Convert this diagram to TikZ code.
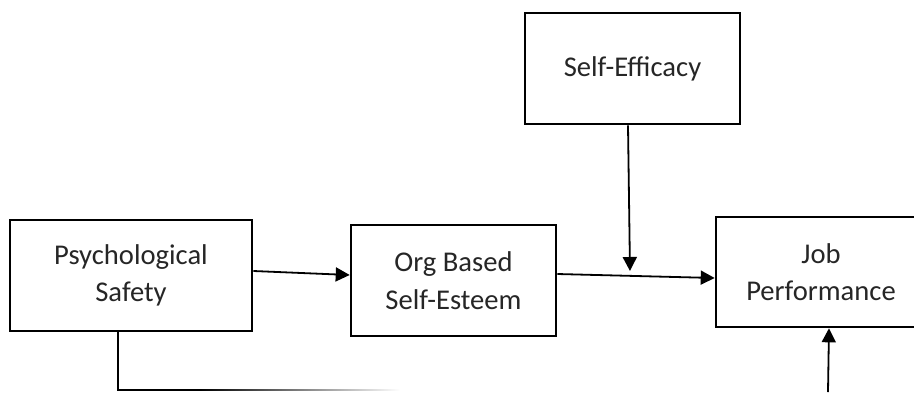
\documentclass[tikz,border=0pt]{standalone}
\usepackage{fontspec}
\setmainfont{Carlito}
\usetikzlibrary{arrows.meta}
\definecolor{txt}{HTML}{262626}
\tikzset{
  box/.style={draw=black, line width=2.6pt, fill=white, align=center, inner sep=0pt,
    font=\fontsize{28.6}{37.5}\selectfont, text=txt},
  conn/.style={line width=1.8pt, draw=black},
  arr/.style={conn, -{Triangle[length=14pt,width=14pt]}}
}
\begin{document}
\begin{tikzpicture}[x=1pt,y=-1pt]
\useasboundingbox (0,0) rectangle (914,392);
\node[box, minimum width=242pt, minimum height=111pt] (ps) at (131,275.5) {Psychological\\Safety};
\node[box, minimum width=205pt, minimum height=111pt] (obse) at (453.5,280.5) {Org Based\\Self-Esteem};
\node[box, minimum width=215pt, minimum height=111pt] (se) at (632.5,68.5) {Self-Efficacy};
\node[box, minimum width=210pt, minimum height=110pt] (jp) at (821,272) {Job\\Performance};
\coordinate (mod) at (630,271);
\coordinate (pb) at (118,390);
\coordinate (fa) at (200,390);
\coordinate (jb) at (828,392);
\draw[arr] ([yshift=4.5pt]ps.east) -- ([yshift=5.5pt]obse.west);
\draw[arr] ([yshift=6.5pt]obse.east) -- ([yshift=-6pt]jp.west);
\draw[arr] ([xshift=-4.5pt]se.south) -- (mod);
\draw[conn] ([xshift=-13pt]ps.south) -- (pb) -- (fa);
\shade[left color=black, right color=white] (200,389.1) rectangle (400,390.9);
\draw[arr] (jb) -- ([xshift=8pt]jp.south);
\end{tikzpicture}
\end{document}
